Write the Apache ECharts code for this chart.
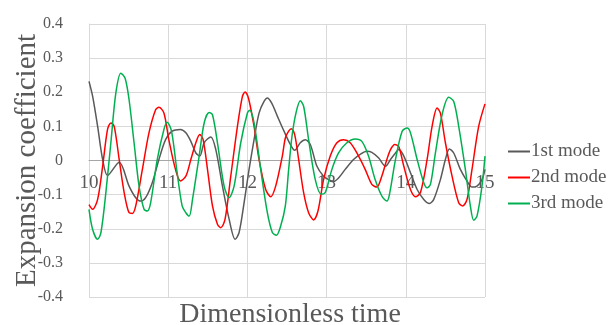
<!DOCTYPE html>
<html>
<head>
<meta charset="utf-8">
<script src="https://cdn.jsdelivr.net/npm/echarts@6/dist/echarts.min.js"></script>
<style>
  html, body { margin: 0; padding: 0; background: #fff; }
  #chart { width: 608px; height: 325px; }
</style>
</head>
<body>
<div id="chart"></div>
<script>
// 模态展开系数随时间变化
const seriesNames = ['1st mode', '2nd mode', '3rd mode'];
const xTicks = [10, 11, 12, 13, 14, 15];
const yTicks = [-0.4, -0.3, -0.2, -0.1, 0, 0.1, 0.2, 0.3, 0.4];

const mode1 = [
  [10.000, 0.232], [10.046, 0.188], [10.109, 0.100], [10.172, 0.003], [10.234, -0.044],
  [10.381, -0.005], [10.506, -0.075], [10.590, -0.109], [10.653, -0.119], [10.715, -0.109],
  [10.799, -0.065], [10.883, 0.003], [10.967, 0.061], [11.050, 0.086], [11.155, 0.091],
  [11.223, 0.081], [11.286, 0.056], [11.349, 0.022], [11.399, 0.013], [11.454, 0.052],
  [11.538, 0.069], [11.601, 0.032], [11.685, -0.075], [11.769, -0.172], [11.845, -0.231],
  [11.895, -0.211], [11.958, -0.124], [12.021, -0.026], [12.084, 0.061], [12.147, 0.139],
  [12.210, 0.173], [12.252, 0.183], [12.307, 0.168], [12.378, 0.130], [12.462, 0.086],
  [12.542, 0.047], [12.597, 0.030], [12.668, 0.052], [12.731, 0.061], [12.794, 0.047],
  [12.878, -0.017], [12.962, -0.046], [13.025, -0.056], [13.088, -0.061], [13.151, -0.051],
  [13.235, -0.026], [13.340, 0.003], [13.424, 0.018], [13.508, 0.027], [13.571, 0.024],
  [13.655, 0.008], [13.744, -0.017], [13.807, 0.003], [13.870, 0.022], [13.912, 0.032],
  [13.975, 0.013], [14.059, -0.036], [14.143, -0.085], [14.227, -0.114], [14.298, -0.126],
  [14.353, -0.114], [14.437, -0.056], [14.500, 0.003], [14.550, 0.034], [14.605, 0.022],
  [14.689, -0.026], [14.773, -0.060], [14.836, -0.078], [14.899, -0.075], [14.962, -0.056],
  [15.000, -0.026]
];

const mode2 = [
  [10.000, -0.129], [10.046, -0.143], [10.109, -0.114], [10.172, -0.017], [10.234, 0.091],
  [10.276, 0.110], [10.318, 0.100], [10.381, 0.003], [10.444, -0.094], [10.506, -0.153],
  [10.548, -0.155], [10.590, -0.133], [10.674, -0.026], [10.757, 0.081], [10.841, 0.149],
  [10.883, 0.156], [10.946, 0.139], [11.008, 0.061], [11.092, -0.026], [11.155, -0.060],
  [11.223, -0.046], [11.286, 0.003], [11.349, 0.052], [11.399, 0.076], [11.441, 0.061],
  [11.496, -0.026], [11.559, -0.133], [11.622, -0.187], [11.664, -0.197], [11.718, -0.172],
  [11.790, -0.046], [11.874, 0.100], [11.937, 0.188], [11.971, 0.201], [12.013, 0.183],
  [12.084, 0.100], [12.147, 0.003], [12.231, -0.085], [12.294, -0.106], [12.357, -0.075],
  [12.441, 0.013], [12.479, 0.066], [12.521, 0.086], [12.555, 0.093], [12.597, 0.076],
  [12.647, 0.003], [12.710, -0.094], [12.773, -0.153], [12.836, -0.174], [12.891, -0.148],
  [12.962, -0.056], [13.046, 0.013], [13.130, 0.052], [13.214, 0.061], [13.298, 0.052],
  [13.382, 0.022], [13.487, -0.026], [13.571, -0.070], [13.634, -0.078], [13.697, -0.046],
  [13.761, 0.003], [13.807, 0.032], [13.861, 0.047], [13.912, 0.040], [13.975, -0.017],
  [14.059, -0.085], [14.122, -0.106], [14.185, -0.094], [14.269, 0.003], [14.332, 0.100],
  [14.395, 0.154], [14.437, 0.139], [14.500, 0.052], [14.584, -0.046], [14.668, -0.124],
  [14.718, -0.133], [14.773, -0.114], [14.836, -0.026], [14.920, 0.100], [15.000, 0.166]
];

const mode3 = [
  [10.000, -0.143], [10.046, -0.202], [10.109, -0.231], [10.151, -0.211], [10.213, -0.094],
  [10.276, 0.052], [10.339, 0.198], [10.402, 0.256], [10.456, 0.241], [10.506, 0.178],
  [10.569, 0.052], [10.632, -0.075], [10.695, -0.143], [10.736, -0.148], [10.778, -0.124],
  [10.862, 0.003], [10.946, 0.091], [10.987, 0.112], [11.042, 0.086], [11.113, -0.036],
  [11.176, -0.133], [11.223, -0.153], [11.265, -0.163], [11.307, -0.114], [11.391, 0.013],
  [11.454, 0.110], [11.517, 0.141], [11.559, 0.134], [11.622, 0.052], [11.706, -0.075],
  [11.769, -0.109], [11.832, -0.075], [11.916, 0.052], [12.000, 0.139], [12.029, 0.147],
  [12.084, 0.110], [12.168, -0.026], [12.252, -0.153], [12.315, -0.211], [12.366, -0.219],
  [12.420, -0.192], [12.479, -0.133], [12.521, -0.026], [12.563, 0.071], [12.613, 0.139],
  [12.668, 0.175], [12.710, 0.159], [12.773, 0.061], [12.857, -0.056], [12.933, -0.099],
  [12.983, -0.094], [13.067, -0.026], [13.151, 0.022], [13.256, 0.052], [13.361, 0.063],
  [13.445, 0.056], [13.529, 0.013], [13.613, -0.056], [13.697, -0.104], [13.761, -0.119],
  [13.794, -0.099], [13.870, 0.003], [13.954, 0.086], [14.017, 0.095], [14.059, 0.081],
  [14.143, 0.003], [14.227, -0.065], [14.269, -0.080], [14.311, -0.070], [14.374, 0.022],
  [14.458, 0.134], [14.542, 0.185], [14.605, 0.173], [14.668, 0.100], [14.752, -0.026],
  [14.815, -0.133], [14.857, -0.175], [14.899, -0.163], [14.962, -0.075], [15.000, 0.013]
];

const seriesData = [mode1, mode2, mode3];
const seriesColors = ['#595959', '#ff0000', '#00b050'];

const FONT = "'Liberation Serif', 'DejaVu Serif', serif";

const chart = echarts.init(document.getElementById('chart'));
const option = {
  animation: false,
  textStyle: { fontFamily: FONT },
  grid: { left: 89, right: 123, top: 24, bottom: 28, containLabel: false, outerBoundsMode: 'none' },
  legend: {
    orient: 'vertical',
    left: 503,
    top: 137,
    icon: 'rect',
    itemWidth: 22,
    itemHeight: 2,
    itemGap: 7,
    textStyle: { fontFamily: FONT, fontSize: 19, color: '#595959', padding: [0, 0, 0, -4] },
    data: seriesNames
  },
  xAxis: {
    type: 'value',
    min: xTicks[0],
    max: xTicks[xTicks.length - 1],
    interval: 1,
    // x 轴画在 y=0 处
    offset: -136.5,
    name: 'Dimensionless time',
    nameLocation: 'middle',
    nameGap: 140,
    nameMoveOverlap: false,
    nameTextStyle: { fontFamily: FONT, fontSize: 28, color: '#595959', padding: [0, 0, 0, 6] },
    axisLine: { onZero: false, lineStyle: { color: '#a6a6a6', width: 1 } },
    axisTick: { show: false },
    axisLabel: { fontFamily: FONT, fontSize: 19, color: '#595959', margin: 13 },
    splitLine: { show: true, lineStyle: { color: '#d9d9d9', width: 1 } }
  },
  yAxis: {
    type: 'value',
    min: yTicks[0],
    max: yTicks[yTicks.length - 1],
    interval: 0.1,
    name: 'Expansion coefficient',
    nameLocation: 'middle',
    nameGap: 47,
    nameMoveOverlap: false,
    nameTextStyle: { fontFamily: FONT, fontSize: 29, color: '#595959' },
    axisLine: { show: true, onZero: false, lineStyle: { color: '#d9d9d9', width: 1 } },
    axisTick: { show: false },
    axisLabel: {
      fontFamily: FONT, fontSize: 16, color: '#595959', margin: 26,
      formatter: v => String(+v.toFixed(1))
    },
    splitLine: { show: true, lineStyle: { color: '#d9d9d9', width: 1 } }
  },
  series: seriesNames.map((name, i) => ({
    name: name,
    type: 'line',
    data: seriesData[i],
    symbol: 'none',
    smooth: 0.3,
    color: seriesColors[i],
    lineStyle: { width: 1.5, color: seriesColors[i] }
  }))
};
chart.setOption(option);
</script>
</body>
</html>
